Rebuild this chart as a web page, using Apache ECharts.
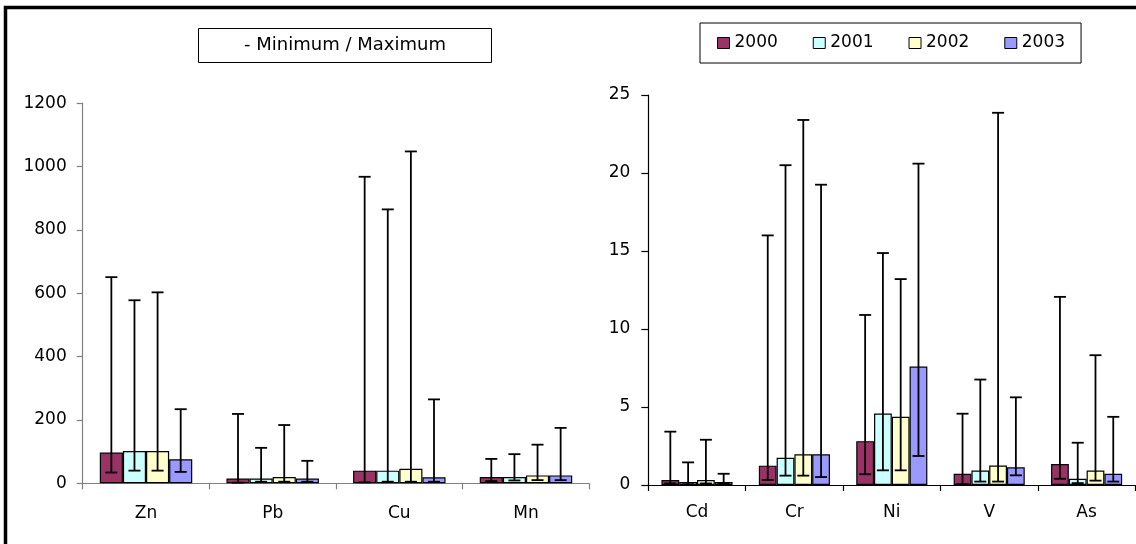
<!DOCTYPE html>
<html>
<head>
<meta charset="utf-8">
<title>Metals - Minimum / Maximum</title>
<script src="https://cdn.jsdelivr.net/npm/echarts@6/dist/echarts.min.js"></script>
<style>
  html, body { margin: 0; padding: 0; background: #fff; overflow: hidden; }
  #chart { width: 1136px; height: 544px; }
</style>
</head>
<body>
<div id="chart"></div>
<script>
// left panel: Zn, Pb, Cu, Mn
const leftCats = ['Zn', 'Pb', 'Cu', 'Mn']
const leftY2000 = [97, 15, 40, 20]
const leftY2001 = [102, 15, 40, 20]
const leftY2002 = [102, 20, 46, 25]
const leftY2003 = [76, 15, 19, 25]
const leftMin2000 = [34, 2, 3, 7]
const leftMin2001 = [40, 5, 5, 9]
const leftMin2002 = [40, 5, 5, 10]
const leftMin2003 = [36, 5, 5, 10]
const leftMax2000 = [651, 219, 968, 77]
const leftMax2001 = [578, 112, 865, 92]
const leftMax2002 = [603, 184, 1048, 122]
const leftMax2003 = [234, 71, 265, 175]
const leftTicks = [0, 200, 400, 600, 800, 1000, 1200]

// right panel: Cd, Cr, Ni, V, As
const rightCats = ['Cd', 'Cr', 'Ni', 'V', 'As']
const rightY2000 = [0.32, 1.24, 2.81, 0.72, 1.35]
const rightY2001 = [0.19, 1.75, 4.58, 0.93, 0.4]
const rightY2002 = [0.32, 1.97, 4.37, 1.25, 0.93]
const rightY2003 = [0.19, 1.97, 7.59, 1.13, 0.72]
const rightMin2000 = [0.1, 0.32, 0.69, 0.05, 0.4]
const rightMin2001 = [0.05, 0.6, 0.94, 0.22, 0.12]
const rightMin2002 = [0.1, 0.6, 0.94, 0.22, 0.28]
const rightMin2003 = [0.08, 0.51, 1.86, 0.62, 0.22]
const rightMax2000 = [3.42, 16.0, 10.9, 4.57, 12.06]
const rightMax2001 = [1.45, 20.5, 14.87, 6.76, 2.71]
const rightMax2002 = [2.9, 23.4, 13.2, 23.86, 8.32]
const rightMax2003 = [0.72, 19.25, 20.6, 5.62, 4.37]
const rightTicks = [0, 5, 10, 15, 20, 25]

const years = ['2000', '2001', '2002', '2003']
const colors = ['#993366', '#CCFFFF', '#FFFFCC', '#9999FF']

const FONT = 'DejaVu Sans'
const CAT_GAP = 0.27

const leftVals = [leftY2000, leftY2001, leftY2002, leftY2003]
const leftMins = [leftMin2000, leftMin2001, leftMin2002, leftMin2003]
const leftMaxs = [leftMax2000, leftMax2001, leftMax2002, leftMax2003]
const rightVals = [rightY2000, rightY2001, rightY2002, rightY2003]
const rightMins = [rightMin2000, rightMin2001, rightMin2002, rightMin2003]
const rightMaxs = [rightMax2000, rightMax2001, rightMax2002, rightMax2003]

// whisker drawn at the centre of bar k inside its category group
const makeErrorRender = (k) => (params, api) => {
  const idx = api.value(0)
  const lo = api.coord([idx, api.value(1)])
  const hi = api.coord([idx, api.value(2)])
  const band = api.size([1, 0])[0]
  const barW = band * (1 - CAT_GAP) / years.length
  const x = lo[0] - barW * years.length / 2 + (k + 0.5) * barW
  const cap = 6
  const style = { stroke: '#000', lineWidth: 1.8 }
  return {
    type: 'group',
    children: [
      { type: 'line', shape: { x1: x, y1: lo[1], x2: x, y2: hi[1] }, style },
      { type: 'line', shape: { x1: x - cap, y1: hi[1], x2: x + cap, y2: hi[1] }, style },
      { type: 'line', shape: { x1: x - cap, y1: lo[1], x2: x + cap, y2: lo[1] }, style }
    ]
  }
}

const buildSeries = (gridIdx, cats, vals, mins, maxs) => {
  const out = []
  years.forEach((y, k) => {
    out.push({
      name: y,
      type: 'bar',
      xAxisIndex: gridIdx,
      yAxisIndex: gridIdx,
      barGap: '0%',
      barCategoryGap: (CAT_GAP * 100) + '%',
      itemStyle: { color: colors[k], borderColor: '#000', borderWidth: 1.2 },
      emphasis: { disabled: true },
      data: vals[k]
    })
  })
  years.forEach((y, k) => {
    out.push({
      name: 'minmax-' + gridIdx + '-' + y,
      type: 'custom',
      xAxisIndex: gridIdx,
      yAxisIndex: gridIdx,
      z: 5,
      encode: { x: 0, y: [1, 2] },
      renderItem: makeErrorRender(k),
      data: cats.map((c, i) => [i, mins[k][i], maxs[k][i]])
    })
  })
  return out
}

const chart = echarts.init(document.getElementById('chart'))

const option = {
  backgroundColor: '#fff',
  animation: false,
  textStyle: { fontFamily: FONT, color: '#000' },
  legend: {
    data: years,
    left: 700,
    top: 23,
    orient: 'horizontal',
    padding: [11, 16, 11, 17],
    itemGap: 35,
    itemWidth: 12,
    itemHeight: 11,
    icon: 'rect',
    borderColor: '#000',
    borderWidth: 1,
    selectedMode: false,
    itemStyle: { borderColor: '#000', borderWidth: 1 },
    textStyle: { fontFamily: FONT, fontSize: 17, color: '#000', lineHeight: 18 }
  },
  graphic: [
    // outer frame, only its top and left edges fall inside the picture
    {
      type: 'polyline',
      shape: { points: [[5.5, 560], [5.5, 7.5], [1150, 7.5]] },
      style: { fill: null, stroke: '#000', lineWidth: 3.5 },
      silent: true
    },
    {
      type: 'group',
      left: 198,
      top: 28,
      children: [
        {
          type: 'rect',
          shape: { x: 0, y: 0, width: 293, height: 34 },
          style: { fill: '#fff', stroke: '#000', lineWidth: 1 }
        },
        {
          type: 'text',
          x: 146.5,
          y: 17,
          style: {
            text: '- Minimum / Maximum',
            fontFamily: FONT,
            fontSize: 18,
            fill: '#000',
            align: 'center',
            verticalAlign: 'middle'
          }
        }
      ]
    }
  ],
  grid: [
    { left: 82.7, top: 103.3, width: 506.6, height: 380 },
    { left: 648.3, top: 95, width: 487, height: 390 }
  ],
  xAxis: [
    {
      type: 'category',
      gridIndex: 0,
      data: leftCats,
      axisLine: { lineStyle: { color: '#808080', width: 1.2 } },
      axisTick: { show: true, length: 6, lineStyle: { color: '#808080', width: 1.2 } },
      axisLabel: { fontFamily: FONT, fontSize: 17, color: '#000', margin: 22 }
    },
    {
      type: 'category',
      gridIndex: 1,
      data: rightCats,
      axisLine: { lineStyle: { color: '#000', width: 1.2 } },
      axisTick: { show: true, length: 6, lineStyle: { color: '#000', width: 1.2 } },
      axisLabel: { fontFamily: FONT, fontSize: 17, color: '#000', margin: 19 }
    }
  ],
  yAxis: [
    {
      type: 'value',
      gridIndex: 0,
      min: leftTicks[0],
      max: leftTicks[leftTicks.length - 1],
      interval: leftTicks[1] - leftTicks[0],
      splitLine: { show: false },
      axisLine: { show: true, lineStyle: { color: '#808080', width: 1.2 } },
      axisTick: { show: true, length: 6, lineStyle: { color: '#808080', width: 1.2 } },
      axisLabel: { fontFamily: FONT, fontSize: 17, color: '#000', margin: 16, formatter: (v) => String(v) }
    },
    {
      type: 'value',
      gridIndex: 1,
      min: rightTicks[0],
      max: rightTicks[rightTicks.length - 1],
      interval: rightTicks[1] - rightTicks[0],
      splitLine: { show: false },
      axisLine: { show: true, lineStyle: { color: '#000', width: 1.2 } },
      axisTick: { show: true, length: 7, lineStyle: { color: '#000', width: 1.2 } },
      axisLabel: { fontFamily: FONT, fontSize: 17, color: '#000', margin: 18, formatter: (v) => String(v) }
    }
  ],
  series: [
    ...buildSeries(0, leftCats, leftVals, leftMins, leftMaxs),
    ...buildSeries(1, rightCats, rightVals, rightMins, rightMaxs)
  ]
}

chart.setOption(option)
window.addEventListener('resize', () => chart.resize())
</script>
</body>
</html>
